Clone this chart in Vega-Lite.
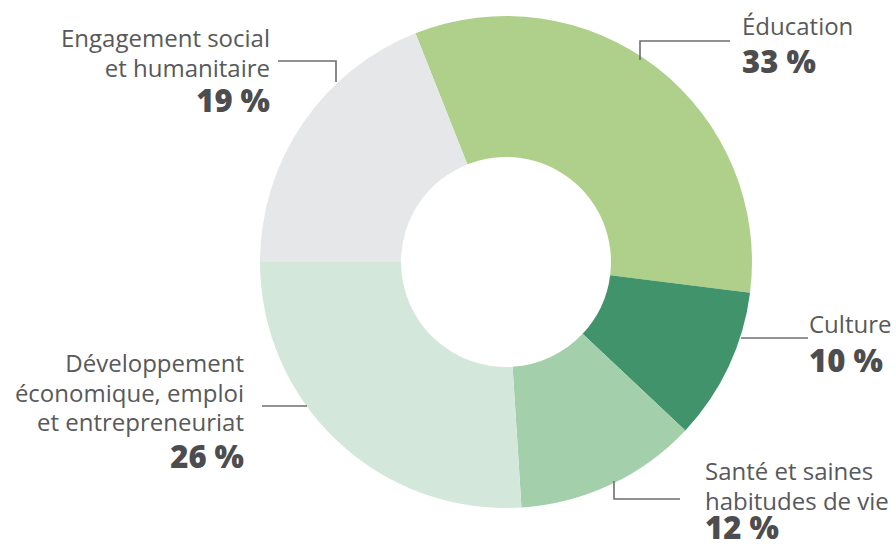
{
  "$schema": "https://vega.github.io/schema/vega-lite/v6.json",
  "width": 896,
  "height": 549,
  "autosize": {"type": "fit", "contains": "padding"},
  "padding": 0,
  "background": "white",
  "config": {"view": {"stroke": null}},
  "datasets": {
    "slices": [
      {"cat": "Éducation", "pct": 33, "ord": 1},
      {"cat": "Culture", "pct": 10, "ord": 2},
      {"cat": "Santé et saines habitudes de vie", "pct": 12, "ord": 3},
      {"cat": "Développement économique, emploi et entrepreneuriat", "pct": 26, "ord": 4},
      {"cat": "Engagement social et humanitaire", "pct": 19, "ord": 5}
    ],
    "labels": [
      {"side": "right", "lx": -236, "ly": 215, "py": 150, "lines": ["Engagement social", "et humanitaire"], "p": "19 %"},
      {"side": "left", "lx": 236, "ly": 227, "py": 189, "lines": ["Éducation"], "p": "33 %"},
      {"side": "left", "lx": 303, "ly": -71, "py": -110, "lines": ["Culture"], "p": "10 %"},
      {"side": "left", "lx": 199, "ly": -218, "py": -277, "lines": ["Santé et saines", "habitudes de vie"], "p": "12 %"},
      {"side": "right", "lx": -262, "ly": -110, "py": -206, "lines": ["Développement", "économique, emploi", "et entrepreneuriat"], "p": "26 %"}
    ],
    "leaders": [
      {"id": "eng", "k": 1, "lx": -228, "ly": 201},
      {"id": "eng", "k": 2, "lx": -170, "ly": 201},
      {"id": "eng", "k": 3, "lx": -170, "ly": 180},
      {"id": "edu", "k": 1, "lx": 224, "ly": 221},
      {"id": "edu", "k": 2, "lx": 134, "ly": 221},
      {"id": "edu", "k": 3, "lx": 134, "ly": 202},
      {"id": "cul", "k": 1, "lx": 235, "ly": -76},
      {"id": "cul", "k": 2, "lx": 302, "ly": -76},
      {"id": "san", "k": 1, "lx": 108, "ly": -219},
      {"id": "san", "k": 2, "lx": 108, "ly": -237},
      {"id": "san", "k": 3, "lx": 174, "ly": -237},
      {"id": "dev", "k": 1, "lx": -244, "ly": -144},
      {"id": "dev", "k": 2, "lx": -199, "ly": -144}
    ]
  },
  "layer": [
    {
      "data": {"name": "slices"},
      "mark": {"type": "arc", "innerRadius": 105, "outerRadius": 246},
      "encoding": {
        "theta": {"field": "pct", "type": "quantitative", "stack": true, "scale": {"range": [-0.377, 5.906]}},
        "order": {"field": "ord", "type": "quantitative"},
        "color": {
          "field": "cat",
          "type": "nominal",
          "legend": null,
          "scale": {
            "domain": ["Éducation", "Culture", "Santé et saines habitudes de vie", "Développement économique, emploi et entrepreneuriat", "Engagement social et humanitaire"],
            "range": ["#afd08b", "#40936a", "#a3cfaa", "#d3e8da", "#e6e7e8"]
          }
        },
        "x": {"datum": 0, "type": "quantitative", "scale": {"domain": [-506, 390], "nice": false, "zero": false}, "axis": null},
        "y": {"datum": 0, "type": "quantitative", "scale": {"domain": [-287, 262], "nice": false, "zero": false}, "axis": null}
      }
    },
    {
      "data": {"name": "leaders"},
      "mark": {"type": "line", "color": "#6d6e71", "strokeWidth": 1.6, "interpolate": "linear"},
      "encoding": {
        "x": {"field": "lx", "type": "quantitative"},
        "y": {"field": "ly", "type": "quantitative"},
        "detail": {"field": "id"},
        "order": {"field": "k", "type": "quantitative"}
      }
    },
    {
      "data": {"name": "labels"},
      "transform": [{"filter": "datum.side === 'left'"}],
      "mark": {"type": "text", "align": "left", "baseline": "alphabetic", "font": "Open Sans", "fontSize": 24, "lineHeight": 29.5, "color": "#58595b"},
      "encoding": {
        "x": {"field": "lx", "type": "quantitative"},
        "y": {"field": "ly", "type": "quantitative"},
        "text": {"field": "lines"}
      }
    },
    {
      "data": {"name": "labels"},
      "transform": [{"filter": "datum.side === 'right'"}],
      "mark": {"type": "text", "align": "right", "baseline": "alphabetic", "font": "Open Sans", "fontSize": 24, "lineHeight": 29.5, "color": "#58595b"},
      "encoding": {
        "x": {"field": "lx", "type": "quantitative"},
        "y": {"field": "ly", "type": "quantitative"},
        "text": {"field": "lines"}
      }
    },
    {
      "data": {"name": "labels"},
      "transform": [{"filter": "datum.side === 'left'"}],
      "mark": {"type": "text", "align": "left", "baseline": "alphabetic", "font": "Open Sans", "fontSize": 31, "fontWeight": 800, "color": "#4d4d4f"},
      "encoding": {
        "x": {"field": "lx", "type": "quantitative"},
        "y": {"field": "py", "type": "quantitative"},
        "text": {"field": "p"}
      }
    },
    {
      "data": {"name": "labels"},
      "transform": [{"filter": "datum.side === 'right'"}],
      "mark": {"type": "text", "align": "right", "baseline": "alphabetic", "font": "Open Sans", "fontSize": 31, "fontWeight": 800, "color": "#4d4d4f"},
      "encoding": {
        "x": {"field": "lx", "type": "quantitative"},
        "y": {"field": "py", "type": "quantitative"},
        "text": {"field": "p"}
      }
    }
  ]
}
